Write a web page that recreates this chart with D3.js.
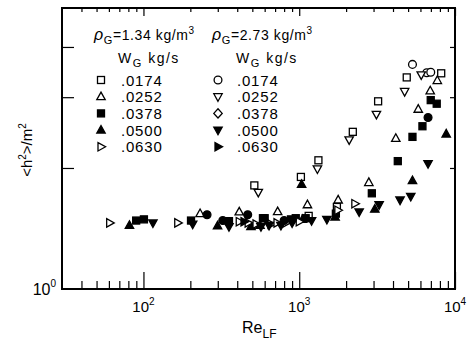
<!DOCTYPE html>
<html><head><meta charset="utf-8">
<script src="https://cdn.jsdelivr.net/npm/d3@7"></script>
<style>
body{margin:0;background:#fff}
text{font-family:"Liberation Sans",Arial,sans-serif;fill:#000}
</style>
</head><body>
<svg id="c" width="468" height="343"></svg>
<script>
// ---------------- data ----------------
const xDomain = [30, 10000];
const yDomain = [1, 5];
const xMajorTicks = [100, 1000, 10000];
const xMinorTicks = [40,50,60,70,80,90,200,300,400,500,600,700,800,900,2000,3000,4000,5000,6000,7000,8000,9000];
const yTicks = [2, 3, 4];
const xTickExponents = ["2", "3", "4"];
const yLabelBase = "10", yLabelExp = "0";
const densities = ["1.34", "2.73"];
const flowRates = [".0174", ".0252", ".0378", ".0500", ".0630"];

// rho_G = 1.34 kg/m3  [Re_LF, <h2>/m2]
const sqOpen_0174 = [[515,1.81],[1025,1.90],[1328,2.09],[2208,2.46],[3210,2.93],[4900,3.36],[8155,3.44],[1745,1.60],[1150,1.52]];
const triUpOpen_0252 = [[231,1.54],[412,1.555],[727,1.557],[1129,1.62],[1778,1.665],[2798,1.84],[4168,2.37],[5808,2.80],[6934,3.11],[7700,3.30]];
const sqFilled_0378 = [[89.8,1.48],[100.7,1.49],[202,1.48],[354,1.475],[585,1.50],[885,1.49],[600,1.50],[950,1.50],[1100,1.50],[1719,1.54],[2925,1.73],[4293,2.08],[5333,2.39],[6180,2.54],[6986,2.95],[7632,2.89]];
const triUpFilled_0500 = [[81.3,1.44],[299,1.435],[490,1.43],[560,1.44],[1050,1.49],[1036,1.82],[1700,1.51],[3056,1.58],[5333,1.86],[8781,2.43]];
const triRightOpen_0630 = [[60.7,1.46],[166,1.46],[412,1.47],[470,1.46],[528,1.45],[659,1.45],[720,1.46],[822,1.46],[1000,1.47],[1770,1.57],[2275,1.63]];
// rho_G = 2.73 kg/m3
const circOpen_0174 = [[5333,3.62],[6586,3.45],[6986,3.46]];
const triDownOpen_0252 = [[546,1.74],[1308,1.99],[2092,2.35],[3130,2.72],[4750,3.10],[6070,3.41]];
const diamOpen_0378 = [];
const triDownFilled_0500 = [[115,1.46],[207,1.45],[354,1.43],[568,1.43],[640,1.44],[763,1.44],[900,1.46],[1200,1.48],[1505,1.49],[2425,1.555],[3258,1.62],[4438,1.665],[5200,1.70],[6714,2.05]];
const triRightFilled_0630 = [[442,1.47]];
const circFilled_extra = [[256,1.53],[323,1.48],[467,1.53],[800,1.48],[6714,2.67]];

// ---------------- setup ----------------
const svg = d3.select("#c");
const L = 62, R = 455, T = 8, B = 289;
const x = d3.scaleLog().domain(xDomain).range([L, R]);
const y = d3.scaleLog().domain(yDomain).range([B, T]);

const series = [
  {data: sqOpen_0174, type: "square", filled: false, col: 0, row: 0},
  {data: triUpOpen_0252, type: "triUp", filled: false, col: 0, row: 1},
  {data: sqFilled_0378, type: "square", filled: true, col: 0, row: 2},
  {data: triUpFilled_0500, type: "triUp", filled: true, col: 0, row: 3},
  {data: triRightOpen_0630, type: "triRight", filled: false, col: 0, row: 4},
  {data: circOpen_0174, type: "circle", filled: false, col: 1, row: 0},
  {data: triDownOpen_0252, type: "triDown", filled: false, col: 1, row: 1},
  {data: diamOpen_0378, type: "diamond", filled: false, col: 1, row: 2},
  {data: triDownFilled_0500, type: "triDown", filled: true, col: 1, row: 3},
  {data: triRightFilled_0630, type: "triRight", filled: true, col: 1, row: 4},
  {data: circFilled_extra, type: "circle", filled: true, col: -1, row: -1}
];

const shapes = {
  triUp: [[0,-4.6],[4.2,3],[-4.2,3]],
  triDown: [[0,4.6],[4.2,-3],[-4.2,-3]],
  triRight: [[4.6,0],[-3,4.2],[-3,-4.2]],
  diamond: [[0,-4.6],[4.2,0],[0,4.6],[-4.2,0]]
};
function marker(g, type, filled, cx, cy) {
  let el;
  if (type === "square") el = g.append("rect").attr("x", cx-3.5).attr("y", cy-3.5).attr("width", 7).attr("height", 7);
  else if (type === "circle") el = g.append("circle").attr("cx", cx).attr("cy", cy).attr("r", 3.9);
  else el = g.append("path").attr("d", "M" + shapes[type].map(p => (cx+p[0]) + "," + (cy+p[1])).join("L") + "Z");
  el.attr("fill", filled ? "#000" : "#fff").attr("stroke", "#000").attr("stroke-width", 1.3).attr("stroke-linejoin","miter");
}

// ---------------- axes ----------------
const tickLen = (v, major, minor) => xMajorTicks.includes(v) ? major : minor;
const allX = xMinorTicks.concat(xMajorTicks).sort((a,b)=>a-b);

const gb = svg.append("g").attr("transform", `translate(0,${B})`)
  .call(d3.axisBottom(x).tickValues(allX).tickSize(0).tickFormat(""));
gb.select(".domain").remove();
gb.selectAll(".tick line").attr("y2", d => -tickLen(d, 17, 8)).attr("stroke","#000").attr("stroke-width",1.2);

const gt = svg.append("g").attr("transform", `translate(0,${T})`)
  .call(d3.axisTop(x).tickValues(allX).tickSize(0).tickFormat(""));
gt.select(".domain").remove();
gt.selectAll(".tick line").attr("y2", d => tickLen(d, 8, 4)).attr("stroke","#000").attr("stroke-width",1.2);

const gl = svg.append("g").attr("transform", `translate(${L},0)`)
  .call(d3.axisLeft(y).tickValues(yTicks).tickSize(0).tickFormat(""));
gl.select(".domain").remove();
gl.selectAll(".tick line").attr("x2", 12).attr("stroke","#000").attr("stroke-width",1.2);

const gr = svg.append("g").attr("transform", `translate(${R},0)`)
  .call(d3.axisRight(y).tickValues(yTicks).tickSize(0).tickFormat(""));
gr.select(".domain").remove();
gr.selectAll(".tick line").attr("x2", -5).attr("stroke","#000").attr("stroke-width",1.2);

// frame
svg.append("rect").attr("x", L).attr("y", T).attr("width", R-L).attr("height", B-T)
  .attr("fill","none").attr("stroke","#000").attr("stroke-width",2);

// tick labels
xMajorTicks.forEach((v,i) => {
  const t = svg.append("text").attr("x", x(v)).attr("y", B+23).attr("text-anchor","middle").attr("font-size",15);
  t.append("tspan").text("10");
  t.append("tspan").attr("dy",-7).attr("font-size",10).text(xTickExponents[i]);
});
{
  const t = svg.append("text").attr("x", L-6).attr("y", y(1)+6).attr("text-anchor","end").attr("font-size",16);
  t.append("tspan").text(yLabelBase);
  t.append("tspan").attr("dy",-8).attr("font-size",10).text(yLabelExp);
}

// axis titles
{
  const t = svg.append("text").attr("x", 242).attr("y", 333).attr("font-size",16);
  t.append("tspan").text("Re");
  t.append("tspan").attr("dy",5).attr("font-size",12).text("LF");
}
{
  const t = svg.append("text").attr("transform","translate(32,150) rotate(-90)").attr("text-anchor","middle").attr("font-size",15);
  t.append("tspan").text("<h");
  t.append("tspan").attr("dy",-6).attr("font-size",10).text("2");
  t.append("tspan").attr("dy",6).text(">/m");
  t.append("tspan").attr("dy",-6).attr("font-size",10).text("2");
}

// ---------------- data points ----------------
const gp = svg.append("g");
series.forEach(s => s.data.forEach(d => marker(gp, s.type, s.filled, x(d[0]), y(d[1]))));

// ---------------- legend ----------------
const colX = [94, 212];
const markX = [101, 218];
const numX = [121, 237];
const rowY = r => 80 + r*16.7;
densities.forEach((dn, c) => {
  const t = svg.append("text").attr("x", colX[c]).attr("y", 40).attr("font-size",14).attr("letter-spacing",0.6);
  t.append("tspan").attr("font-style","italic").attr("font-size",16).text("ρ");
  t.append("tspan").attr("dy",4).attr("font-size",11).text("G");
  t.append("tspan").attr("dy",-4).text("=" + dn + " kg/m");
  t.append("tspan").attr("dy",-6).attr("font-size",10).text("3");
  const w = svg.append("text").attr("x", colX[c]+24).attr("y", 63).attr("font-size",14).attr("letter-spacing",1.5);
  w.append("tspan").text("W");
  w.append("tspan").attr("dy",4).attr("font-size",11).text("G");
  w.append("tspan").attr("dy",-4).text(" kg/s");
});
series.filter(s => s.col >= 0).forEach(s => {
  marker(svg, s.type, s.filled, markX[s.col], rowY(s.row));
  svg.append("text").attr("x", numX[s.col]).attr("y", rowY(s.row)+5.5).attr("font-size",15).attr("letter-spacing",0.8).text(flowRates[s.row]);
});
</script>
</body></html>
